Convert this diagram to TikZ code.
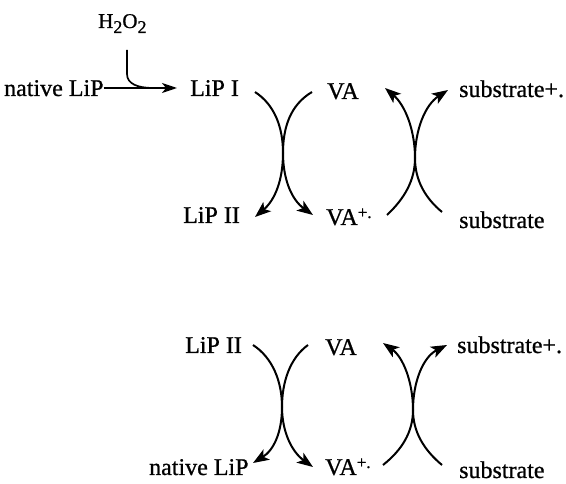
\documentclass[tikz,border=0pt]{standalone}
\usepackage{fontspec}
\setmainfont{Liberation Serif}
\newfontfamily\labfont{Liberation Serif}[FakeBold=0.8]
\usetikzlibrary{arrows.meta,calc}
\begin{document}
\begin{tikzpicture}[x=1pt,y=-1pt,
  lbl/.style={inner sep=0pt,anchor=base west,font=\labfont\fontsize{24}{28}\selectfont},
  small/.style={inner sep=0pt,anchor=base west,font=\labfont\fontsize{21}{24}\selectfont},
  conn/.style={line width=2pt,-{Stealth[length=16pt,width=12pt,inset=4pt]}},
  plain/.style={line width=2pt}]
\useasboundingbox (0,0) rectangle (566,484);
\fill[white] (0,0) rectangle (566,484);
% top reaction
\node[small] (h2o2) at (98,28) {H\raisebox{-5pt}{\fontsize{18}{18}\selectfont 2}O\raisebox{-5pt}{\fontsize{18}{18}\selectfont 2}};
\node[lbl] (natA) at (4,96) {native LiP};
\node[lbl] (lipI) at (190,96) {LiP I};
\node[lbl] (vaA) at (327,99) {VA};
\node[lbl] (subpA) at (459,97) {substrate+.};
\node[lbl] (lipIIA) at (183,223) {LiP II};
\node[lbl] (vapA) at (326,225) {VA\raisebox{7pt}{\fontsize{17}{17}\selectfont +.}};
\node[lbl] (subA) at (459,228) {substrate};
% bottom reaction
\node[lbl] (lipIIB) at (185,353) {LiP II};
\node[lbl] (vaB) at (325,355) {VA};
\node[lbl] (subpB) at (457,353) {substrate+.};
\node[lbl] (natB) at (149,475) {native LiP};
\node[lbl] (vapB) at (325,475) {VA\raisebox{7pt}{\fontsize{17}{17}\selectfont +.}};
\node[lbl] (subB) at (459,478) {substrate};
% H2O2 step
\coordinate (arrS) at (natA.east |- 0,88);
\coordinate (arrE) at (177,88);
\coordinate (hookS) at (127,50);
\draw[line width=1.7pt,-{Stealth[length=15pt,width=10pt,inset=4pt]}] (arrS) -- (arrE);
\draw[line width=1.7pt] (hookS) -- (127,74) .. controls (127,84) and (138,88) .. (153,88);
% X crossings: top left
\coordinate (xA) at (283,153);
\draw[conn] (255,92) .. controls (275,105) and (283,128) .. (xA) .. controls (283,180) and (275,200) .. (255,217);
\draw[conn] (312,92) .. controls (290,105) and (283,128) .. (xA) .. controls (283,180) and (292,200) .. (313,215);
% top right
\coordinate (xB) at (415,158);
\draw[conn] (387,215) .. controls (405,198) and (415,180) .. (xB) .. controls (415,130) and (405,105) .. (385,88);
\draw[conn] (442,212) .. controls (425,198) and (415,180) .. (xB) .. controls (415,130) and (425,105) .. (448,90);
% bottom left
\coordinate (xC) at (282,407);
\draw[conn] (253,345) .. controls (273,358) and (282,382) .. (xC) .. controls (282,432) and (274,450) .. (253,463);
\draw[conn] (308,345) .. controls (290,358) and (282,382) .. (xC) .. controls (282,432) and (292,452) .. (313,467);
% bottom right
\coordinate (xD) at (413,410);
\draw[conn] (383,465) .. controls (402,450) and (413,432) .. (xD) .. controls (413,382) and (403,357) .. (383,343);
\draw[conn] (442,465) .. controls (424,450) and (413,432) .. (xD) .. controls (413,382) and (423,357) .. (447,345);
\end{tikzpicture}
\end{document}
